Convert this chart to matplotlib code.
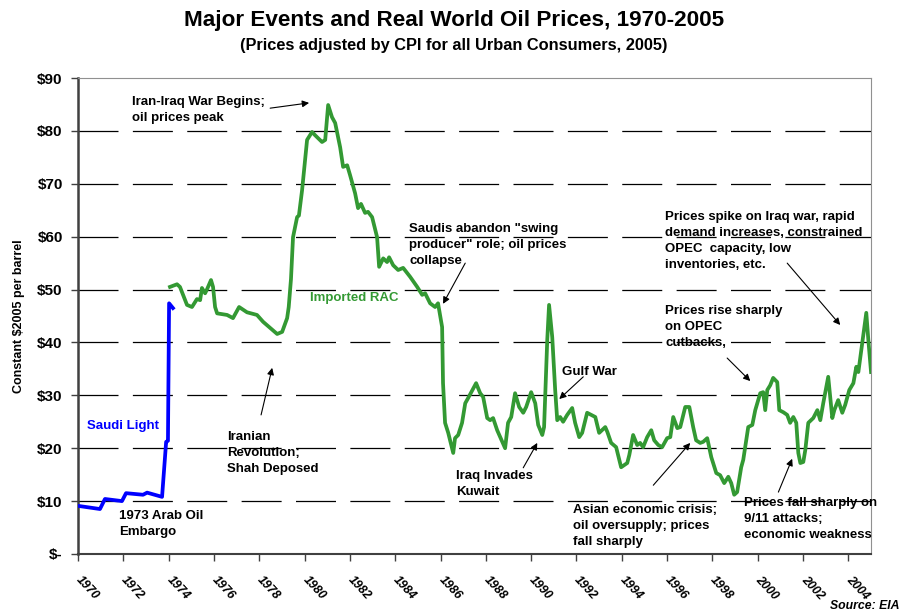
import matplotlib.pyplot as plt
import matplotlib.transforms as mtransforms
import numpy as np

plt.rcParams['font.family'] = ['Liberation Sans', 'DejaVu Sans']
plt.rcParams['font.weight'] = 'bold'

# Saudi Light (blue), constant $2005 per barrel
saudi_years = [1970.0, 1970.97, 1971.19, 1971.94, 1972.12, 1972.87, 1973.05, 1973.71,
               1973.89, 1973.97, 1974.02, 1974.19]
saudi_price = [9.1, 8.5, 10.4, 10.0, 11.5, 11.2, 11.6, 10.8, 21.2, 21.4, 47.4, 46.5]

# Imported RAC (green)
rac_years = [1974.06, 1974.37, 1974.50, 1974.81, 1975.03, 1975.25, 1975.39, 1975.47, 1975.61,
             1975.70, 1975.87, 1975.96, 1976.05, 1976.14, 1976.58, 1976.84, 1977.11, 1977.46,
             1977.90, 1978.17, 1978.79, 1979.01, 1979.23, 1979.30, 1979.40, 1979.49, 1979.67,
             1979.75, 1979.89, 1980.11, 1980.33, 1980.46, 1980.77, 1980.91, 1981.04, 1981.21,
             1981.35, 1981.57, 1981.70, 1981.88, 1982.01, 1982.23, 1982.36, 1982.49, 1982.67,
             1982.80, 1982.98, 1983.20, 1983.29, 1983.47, 1983.64, 1983.73, 1983.91, 1984.13,
             1984.35, 1984.66, 1984.97, 1985.19, 1985.32, 1985.54, 1985.76, 1985.89, 1986.07,
             1986.11, 1986.20, 1986.34, 1986.56, 1986.64, 1986.78, 1986.95, 1987.09, 1987.22,
             1987.57, 1987.75, 1987.88, 1988.06, 1988.19, 1988.32, 1988.50, 1988.85, 1988.98,
             1989.12, 1989.29, 1989.47, 1989.65, 1989.78, 1990.00, 1990.18, 1990.31, 1990.49,
             1990.57, 1990.71, 1990.79, 1990.93, 1991.06, 1991.15, 1991.28, 1991.41, 1991.59,
             1991.81, 1991.94, 1992.12, 1992.25, 1992.47, 1992.65, 1992.83, 1993.00, 1993.27,
             1993.36, 1993.53, 1993.75, 1993.97, 1994.24, 1994.33, 1994.50, 1994.68, 1994.81,
             1994.94, 1995.12, 1995.30, 1995.43, 1995.61, 1995.78, 1996.00, 1996.14, 1996.27,
             1996.45, 1996.58, 1996.80, 1996.98, 1997.15, 1997.28, 1997.46, 1997.59, 1997.77,
             1997.95, 1998.17, 1998.34, 1998.52, 1998.70, 1998.83, 1998.96, 1999.09, 1999.27,
             1999.36, 1999.58, 1999.76, 1999.89, 2000.11, 2000.24, 2000.33, 2000.42, 2000.55,
             2000.68, 2000.86, 2000.95, 2001.13, 2001.30, 2001.43, 2001.57, 2001.70, 2001.79,
             2001.88, 2002.01, 2002.10, 2002.23, 2002.45, 2002.63, 2002.76, 2002.89, 2003.11,
             2003.29, 2003.38, 2003.55, 2003.73, 2003.86, 2004.04, 2004.22, 2004.35, 2004.44,
             2004.61, 2004.79, 2004.88, 2005.0]
rac_price = [50.5, 51.0, 50.5, 47.1, 46.7, 48.2, 48.0, 50.3, 49.3,
             50.1, 51.8, 50.5, 46.7, 45.5, 45.2, 44.6, 46.7, 45.7,
             45.2, 43.9, 41.6, 42.0, 44.6, 46.7, 52.0, 59.9, 63.7,
             64.0, 68.8, 78.3, 79.8, 79.2, 77.9, 78.3, 84.9, 82.6,
             81.5, 76.9, 73.2, 73.5, 71.6, 68.2, 65.4, 66.2, 64.5,
             64.7, 63.7, 59.9, 54.3, 55.9, 55.2, 56.1, 54.6, 53.7,
             54.1, 52.4, 50.5, 49.0, 49.3, 47.4, 46.7, 47.4, 42.9,
             32.3, 24.8, 22.9, 19.1, 21.9, 22.5, 24.8, 28.5, 29.5,
             32.3, 30.4, 29.7, 25.7, 25.3, 25.7, 23.4, 20.0, 24.8,
             25.9, 30.4, 27.8, 26.7, 27.8, 30.6, 28.5, 24.4, 22.5,
             24.0, 40.5, 47.1, 41.0, 31.0, 25.3, 25.9, 25.0, 26.3,
             27.6, 24.8, 22.1, 22.9, 26.7, 26.3, 25.9, 22.9, 24.0,
             23.1, 21.0, 20.2, 16.4, 17.2, 18.7, 22.5, 20.6, 21.0,
             20.2, 22.1, 23.4, 21.5, 20.6, 20.2, 21.9, 22.1, 25.9,
             23.8, 24.0, 27.8, 27.8, 24.0, 21.5, 21.0, 21.2, 21.9,
             18.3, 15.3, 14.9, 13.4, 14.6, 13.4, 11.2, 11.7, 16.4,
             17.8, 24.0, 24.4, 27.2, 30.4, 30.6, 27.2, 31.0, 31.9,
             33.3, 32.5, 27.2, 26.8, 26.3, 24.8, 25.9, 24.8, 19.1,
             17.2, 17.4, 19.7, 24.8, 25.7, 27.2, 25.3, 28.5, 33.5,
             25.7, 27.2, 29.1, 26.7, 28.2, 31.0, 32.3, 35.4, 34.4,
             39.9, 45.6, 40.5, 34.4]

yticks = [0, 10, 20, 30, 40, 50, 60, 70, 80, 90]
ytick_labels = ['$-', '$10', '$20', '$30', '$40', '$50', '$60', '$70', '$80', '$90']
xticks = list(range(1970, 2005, 2))

fig = plt.figure(figsize=(9.08, 6.12), dpi=100)
ax = fig.add_axes([0.0859, 0.0948, 0.8734, 0.7777])

for v in yticks[1:-1]:
    ax.axhline(v, color='black', lw=0.9, dashes=(32, 11.5), zorder=1)

ax.plot(rac_years, rac_price, color='#339933', lw=2.7, zorder=3, solid_joinstyle='round')
ax.plot(saudi_years, saudi_price, color='#0000ff', lw=2.7, zorder=4, solid_joinstyle='round')

ax.set_xlim(1970, 2005)
ax.set_ylim(0, 90)
ax.set_yticks(yticks)
ax.set_yticklabels(ytick_labels, fontsize=11, fontweight='bold')
ax.set_xticks(xticks)
ax.set_xticklabels([str(x) for x in xticks], fontsize=8.8, fontweight='bold',
                   fontstyle='italic', rotation=-47, ha='left', va='center',
                   rotation_mode='anchor')
# shift year labels a little to the right of their ticks
shift = mtransforms.ScaledTranslation(5 / 72, 0, fig.dpi_scale_trans)
for lab in ax.get_xticklabels():
    lab.set_transform(lab.get_transform() + shift)
ax.tick_params(axis='y', length=5, width=1, pad=6, color='#404040')
ax.tick_params(axis='x', length=5, width=1, pad=12, color='#404040')

ax.spines['left'].set_color('#404040')
ax.spines['left'].set_linewidth(1.8)
ax.spines['bottom'].set_color('#404040')
ax.spines['bottom'].set_linewidth(1.5)
ax.spines['right'].set_color('#909090')
ax.spines['top'].set_color('#909090')

ax.set_ylabel('Constant $2005 per barrel', fontsize=9, fontweight='bold', labelpad=9)

fig.text(0.5, 0.967, 'Major Events and Real World Oil Prices, 1970-2005',
         ha='center', va='center', fontsize=16.2, fontweight='bold')
fig.text(0.5, 0.926, '(Prices adjusted by CPI for all Urban Consumers, 2005)',
         ha='center', va='center', fontsize=11.8, fontweight='bold')
fig.text(0.991, 0.009, 'Source: EIA', ha='right', va='center', fontsize=8.8,
         fontweight='bold', fontstyle='italic')

tk = dict(fontsize=9.5, fontweight='bold', va='center', ha='left', linespacing=1.42)
arr = dict(arrowstyle='-|>', color='black', lw=0.8, mutation_scale=10, shrinkA=0, shrinkB=0)

ax.text(1970.40, 24.2, 'Saudi Light', color='#0000ff', fontsize=9.5, fontweight='bold',
        va='center', ha='left')
ax.text(1980.24, 48.4, 'Imported RAC', color='#339933', fontsize=9.5, fontweight='bold',
        va='center', ha='left')

ax.text(1972.38, 83.9, 'Iran-Iraq War Begins;\noil prices peak', **tk)
ax.annotate('', xy=(1980.20, 85.3), xytext=(1978.48, 84.3), arrowprops=arr)

ax.text(1971.81, 5.6, '1973 Arab Oil\nEmbargo', **tk)

ax.text(1976.58, 19.1, 'Iranian\nRevolution;\nShah Deposed', **tk)
ax.annotate('', xy=(1978.57, 35.2), xytext=(1978.08, 26.3), arrowprops=arr)

ax.text(1984.61, 58.4, 'Saudis abandon "swing\nproducer" role; oil prices\ncollapse', **tk)
ax.annotate('', xy=(1986.11, 47.3), xytext=(1987.09, 55.0), arrowprops=arr)

ax.text(1991.37, 34.4, 'Gulf War', **tk)
ax.annotate('', xy=(1991.24, 29.3), xytext=(1992.30, 33.5), arrowprops=arr)

ax.text(1986.69, 13.3, 'Iraq Invades\nKuwait', **tk)
ax.annotate('', xy=(1990.27, 21.0), xytext=(1989.65, 16.3), arrowprops=arr)

ax.text(1991.85, 5.3, 'Asian economic crisis;\noil oversupply; prices\nfall sharply', **tk)
ax.annotate('', xy=(1997.02, 21.0), xytext=(1995.39, 13.0), arrowprops=arr)

ax.text(1995.92, 59.2, 'Prices spike on Iraq war, rapid\ndemand increases, constrained\n'
        'OPEC  capacity, low\ninventories, etc.', **tk)
ax.annotate('', xy=(2003.64, 43.3), xytext=(2001.30, 55.0), arrowprops=arr)

ax.text(1995.92, 42.9, 'Prices rise sharply\non OPEC\ncutbacks,', **tk)
ax.annotate('', xy=(1999.67, 32.7), xytext=(1998.65, 37.05), arrowprops=arr)

ax.text(1999.40, 6.6, 'Prices fall sharply on\n9/11 attacks;\neconomic weakness', **tk)
ax.annotate('', xy=(2001.52, 18.0), xytext=(2000.91, 11.7), arrowprops=arr)

fig.savefig('out.png', dpi=100)
